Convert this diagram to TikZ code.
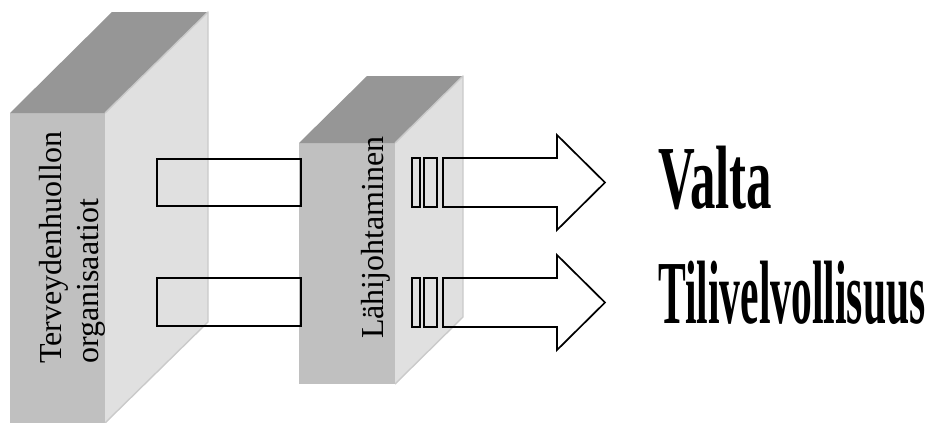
\documentclass[tikz,border=0pt]{standalone}
\usepackage{fontspec}
\setmainfont{Liberation Serif}
\definecolor{topgray}{RGB}{150,150,150}
\definecolor{frontgray}{RGB}{192,192,192}
\definecolor{sidegray}{RGB}{224,224,224}
\definecolor{edgegray}{RGB}{202,202,202}
\begin{document}
\begin{tikzpicture}[x=1pt,y=-1pt,
  frontface/.style={fill=frontgray},
  topface/.style={fill=topgray},
  sideface/.style={fill=sidegray,draw=edgegray,line width=1.4pt,line join=round},
  whitefill/.style={fill=white},
  outline/.style={draw=black,line width=1.7pt,line join=miter},
  sidelabel/.style={rotate=90,anchor=base west,inner sep=0pt,font=\fontsize{32}{36}\selectfont},
  biglabel/.style={anchor=base west,inner sep=0pt,font=\fontsize{90}{90}\selectfont\bfseries}]
\useasboundingbox (0,0) rectangle (927,423);

% ---- outer block: front and top faces
\fill[frontface] (10,113) rectangle (105,423);
\fill[topface] (10,113) -- (112,12) -- (208,12) -- (105,113) -- cycle;

% channels leaving the outer block (white where they stand free)
\path[whitefill] (157,159) rectangle (301,206);
\path[whitefill] (157,278) rectangle (301,326);

% outer block: side face
\path[sideface] (105,113) -- (208,12) -- (208,322) -- (105,423);

% ---- inner block: front and top faces
\fill[frontface] (299,143) rectangle (395,384);
\fill[topface] (299,143) -- (367,76) -- (463,76) -- (395,143) -- cycle;

% slats and block arrows leaving the inner block
\path[whitefill] (412,158) rectangle (420,207);
\path[whitefill] (424,158) rectangle (437,207);
\path[whitefill] (443,158) -- (557,158) -- (557,135) -- (605,182.5) -- (557,230) -- (557,207) -- (443,207) -- cycle;
\path[whitefill] (412,278) rectangle (420,327);
\path[whitefill] (424,278) rectangle (437,327);
\path[whitefill] (443,278) -- (557,278) -- (557,255) -- (605,302.5) -- (557,350) -- (557,327) -- (443,327) -- cycle;

% inner block: side face
\path[sideface] (395,143) -- (463,76) -- (463,317) -- (395,384);

% outlines on top of the faces
\draw[outline] (157,159) rectangle (301,206);
\draw[outline] (157,278) rectangle (301,326);
\draw[outline] (412,158) rectangle (420,207);
\draw[outline] (424,158) rectangle (437,207);
\draw[outline] (443,158) -- (557,158) -- (557,135) -- (605,182.5) -- (557,230) -- (557,207) -- (443,207) -- cycle;
\draw[outline] (412,278) rectangle (420,327);
\draw[outline] (424,278) rectangle (437,327);
\draw[outline] (443,278) -- (557,278) -- (557,255) -- (605,302.5) -- (557,350) -- (557,327) -- (443,327) -- cycle;

% labels
\node[sidelabel] (org1) at (61,364) {Terveydenhuollon};
\node[sidelabel] (org2) at (98,364) {organisaatiot};
\node[sidelabel] (lahi) at (383,339) {Lähijohtaminen};
\node[biglabel] (valta) at (658,208) {\scalebox{0.565}[1]{Valta}};
\node[biglabel] (tili) at (658,323) {\scalebox{0.462}[1]{Tilivelvollisuus}};
\end{tikzpicture}
\end{document}
